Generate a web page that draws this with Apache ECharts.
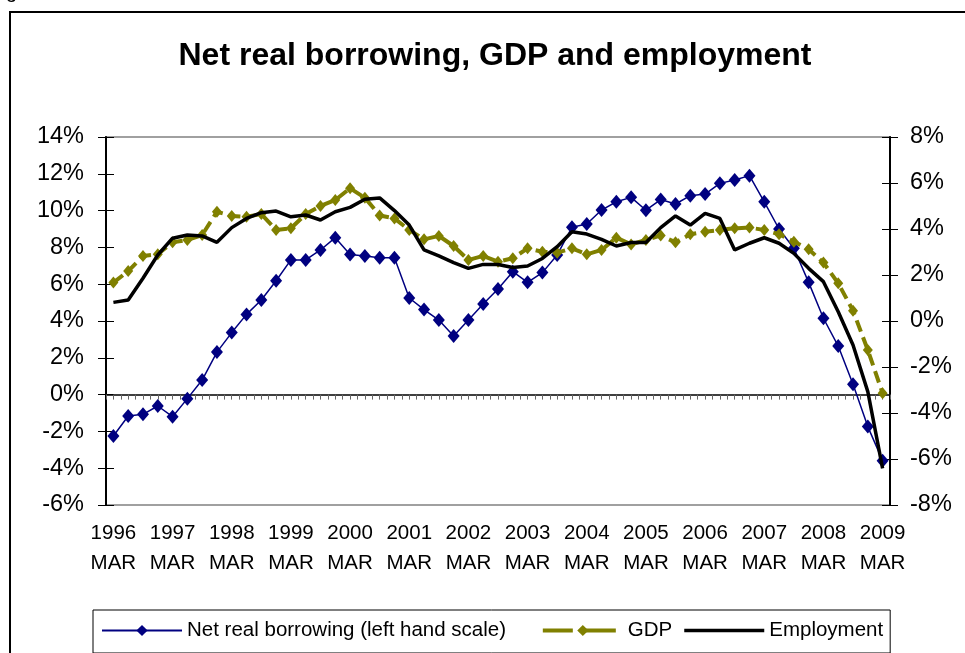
<!DOCTYPE html>
<html>
<head>
<meta charset="utf-8">
<script src="https://cdn.jsdelivr.net/npm/echarts@6/dist/echarts.min.js"></script>
<style>
  html, body { margin: 0; padding: 0; background: #fff; }
  #chart { width: 965px; height: 653px; }
</style>
</head>
<body>
<div id="chart"></div>
<script>
// Quarterly observations, March 1996 to March 2009
const years = [1996, 1997, 1998, 1999, 2000, 2001, 2002, 2003, 2004, 2005, 2006, 2007, 2008, 2009];
const months = ['MAR', 'JUN', 'SEP', 'DEC'];

// Net real borrowing, % (left hand scale)
const borrowing = [
  -2.25, -1.16, -1.07, -0.62, -1.2, -0.22, 0.79, 2.31, 3.37, 4.36,
  5.14, 6.19, 7.32, 7.32, 7.86, 8.53, 7.62, 7.53, 7.44, 7.44,
  5.25, 4.62, 4.05, 3.18, 4.05, 4.92, 5.74, 6.68, 6.1, 6.63,
  7.59, 9.09, 9.27, 10.03, 10.48, 10.72, 10.02, 10.6, 10.36, 10.81,
  10.9, 11.48, 11.66, 11.9, 10.48, 9.0, 7.95, 6.1, 4.15, 2.64,
  0.56, -1.74, -3.59
];

// GDP growth, % (right hand scale)
const gdp = [
  1.67, 2.17, 2.83, 2.9, 3.42, 3.52, 3.74, 4.75, 4.57, 4.53,
  4.65, 3.96, 4.03, 4.65, 5.0, 5.26, 5.77, 5.36, 4.59, 4.46,
  3.96, 3.55, 3.7, 3.26, 2.65, 2.83, 2.58, 2.73, 3.16, 3.01,
  2.97, 3.16, 2.9, 3.09, 3.62, 3.33, 3.52, 3.72, 3.42, 3.77,
  3.88, 3.96, 4.03, 4.06, 3.96, 3.77, 3.45, 3.12, 2.54, 1.64,
  0.45, -1.26, -3.14
];

// Employment growth, % (right hand scale)
const employment = [
  0.81, 0.91, 1.86, 2.87, 3.6, 3.74, 3.7, 3.42, 4.06, 4.46,
  4.71, 4.78, 4.53, 4.61, 4.39, 4.75, 4.94, 5.29, 5.35, 4.8,
  4.17, 3.09, 2.83, 2.54, 2.29, 2.46, 2.46, 2.33, 2.39, 2.72,
  3.23, 3.88, 3.78, 3.55, 3.26, 3.41, 3.41, 4.06, 4.57, 4.17,
  4.68, 4.46, 3.09, 3.38, 3.62, 3.38, 2.94, 2.29, 1.71, 0.4,
  -1.04, -3.07, -6.41
];

const seriesNames = ['Net real borrowing (left hand scale)', 'GDP', 'Employment'];

const quarters = [];
years.forEach(y => months.forEach(m => quarters.push(y + '\n' + m)));
quarters.length = borrowing.length;

const FONT = '"Liberation Sans", Arial, sans-serif';
const OLIVE = '#808000';
const NAVY = '#000080';
const LEGEND_FONT = 20.5;

const chart = echarts.init(document.getElementById('chart'), null, { renderer: 'canvas' });

chart.setOption({
  backgroundColor: '#fff',
  animation: false,
  textStyle: { fontFamily: FONT, color: '#000' },
  title: {
    text: 'Net real borrowing, GDP and employment',
    left: 495,
    textAlign: 'center',
    top: 40,
    padding: 0,
    textStyle: { fontFamily: FONT, fontSize: 32, fontWeight: 'bold', color: '#000' }
  },
  graphic: [
    {
      type: 'rect',
      shape: { x: 10, y: 12, width: 1000, height: 700 },
      style: { fill: 'none', stroke: '#000', lineWidth: 2 },
      silent: true
    },
    {
      type: 'text',
      left: 6, top: -18,
      style: { text: 'g', font: '20px ' + FONT, fill: '#000' },
      silent: true
    }
  ],
  legend: {
    data: [
      { name: seriesNames[0] },
      { name: seriesNames[1], lineStyle: { type: [30, 13], width: 4 } },
      { name: seriesNames[2], icon: 'path://M0,0 L80,0 L80,3.5 L0,3.5 Z' }
    ],
    // a little extra room after the first entry
    formatter: name => name === seriesNames[0] ? name + '    ' : name,
    left: 93,
    top: 610,
    orient: 'horizontal',
    padding: [10, 7, 12, 8],
    itemGap: 12,
    itemWidth: 80,
    itemHeight: 14,
    borderColor: '#000',
    borderWidth: 1,
    textStyle: { fontFamily: FONT, fontSize: LEGEND_FONT, color: '#000' }
  },
  grid: {
    left: 106,
    right: 75,
    top: 137,
    bottom: 148,
    show: true,
    borderColor: '#a0a0a0',
    borderWidth: 2,
    backgroundColor: '#fff'
  },
  xAxis: [
    {
      type: 'category',
      data: quarters,
      position: 'bottom',
      boundaryGap: true,
      axisLine: { show: false, onZero: false },
      axisTick: { show: false },
      splitLine: { show: false },
      axisLabel: {
        interval: 3,
        margin: 13,
        fontSize: 20.5,
        lineHeight: 30,
        color: '#000',
        fontFamily: FONT
      }
    },
    {
      // zero line of the left scale with its small tick marks
      type: 'value',
      position: 'bottom',
      min: 0,
      max: 106,
      interval: 1,
      axisLine: { show: true, onZero: true, onZeroAxisIndex: 0, lineStyle: { color: '#000', width: 1.5 } },
      axisTick: { show: true, length: 5, lineStyle: { color: '#666', width: 1 } },
      axisLabel: { show: false },
      splitLine: { show: false }
    }
  ],
  yAxis: [
    {
      type: 'value',
      position: 'left',
      min: -6,
      max: 14,
      interval: 2,
      axisLine: { show: true, onZero: false, lineStyle: { color: '#000', width: 2 } },
      axisTick: { show: true, length: 8, lineStyle: { color: '#000', width: 1 } },
      splitLine: { show: false },
      axisLabel: { formatter: '{value}%', fontSize: 23.5, color: '#000', margin: 22, fontFamily: FONT }
    },
    {
      type: 'value',
      position: 'right',
      min: -8,
      max: 8,
      interval: 2,
      axisLine: { show: true, onZero: false, lineStyle: { color: '#000', width: 2 } },
      axisTick: { show: true, length: 8, lineStyle: { color: '#000', width: 1 } },
      splitLine: { show: false },
      axisLabel: { formatter: '{value}%', fontSize: 23.5, color: '#000', margin: 20, fontFamily: FONT }
    },
    {
      // inner half of the left cross ticks
      type: 'value',
      position: 'left',
      min: -6,
      max: 14,
      interval: 2,
      axisLine: { show: false, onZero: false },
      axisTick: { show: true, inside: true, length: 8, lineStyle: { color: '#000', width: 1 } },
      axisLabel: { show: false },
      splitLine: { show: false }
    },
    {
      // inner half of the right cross ticks
      type: 'value',
      position: 'right',
      min: -8,
      max: 8,
      interval: 2,
      axisLine: { show: false, onZero: false },
      axisTick: { show: true, inside: true, length: 8, lineStyle: { color: '#000', width: 1 } },
      axisLabel: { show: false },
      splitLine: { show: false }
    }
  ],
  series: [
    {
      name: seriesNames[0],
      type: 'line',
      xAxisIndex: 0,
      yAxisIndex: 0,
      data: borrowing,
      symbol: 'diamond',
      symbolSize: [12, 14],
      showAllSymbol: true,
      color: NAVY,
      itemStyle: { color: NAVY },
      lineStyle: { color: NAVY, width: 1.5 },
      z: 3
    },
    {
      name: seriesNames[1],
      type: 'line',
      xAxisIndex: 0,
      yAxisIndex: 1,
      data: gdp,
      symbol: 'diamond',
      symbolSize: [10, 12],
      showAllSymbol: true,
      color: OLIVE,
      itemStyle: { color: OLIVE },
      lineStyle: { color: OLIVE, width: 4, type: [12, 6] },
      z: 4
    },
    {
      name: seriesNames[2],
      type: 'line',
      xAxisIndex: 0,
      yAxisIndex: 1,
      data: employment,
      symbol: 'none',
      color: '#000',
      itemStyle: { color: '#000' },
      lineStyle: { color: '#000', width: 3.5 },
      z: 5
    }
  ]
});
</script>
</body>
</html>
